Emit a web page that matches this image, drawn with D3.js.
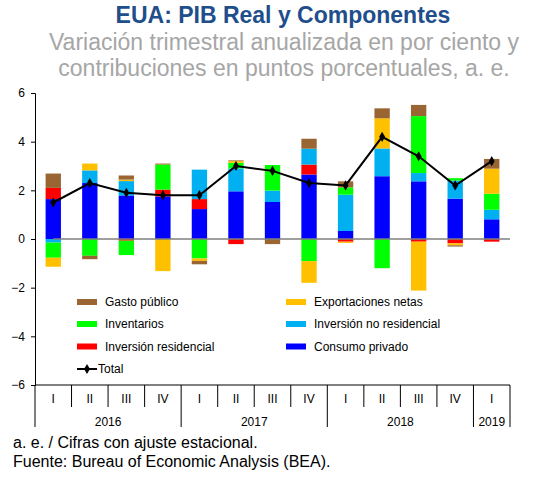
<!DOCTYPE html>
<html lang="es">
<head>
<meta charset="UTF-8">
<title>EUA: PIB Real y Componentes</title>
<style>
body{margin:0;background:#fff;}
svg text{font-family:"Liberation Sans",Arial,sans-serif;}
</style>
</head>
<body>
<script src="https://cdn.jsdelivr.net/npm/d3@7"></script>
<script>
// categorias
var quarters = ['I','II','III','IV','I','II','III','IV','I','II','III','IV','I']
var years    = ['2016','2016','2016','2016','2017','2017','2017','2017','2018','2018','2018','2018','2019']

// contribuciones en puntos porcentuales
var consumo     = [1.64, 2.30, 1.79, 1.75, 1.23, 1.96, 1.52, 2.65, 0.33, 2.58, 2.37, 1.66, 0.81]
var residencial = [0.46, 0, -0.07, 0.28, 0.41, -0.21, 0, 0.41, -0.11, 0, -0.11, -0.18, -0.11]
var noResid     = [-0.15, 0.52, 0.59, 0, 1.21, 0.94, 0.47, 0.65, 1.49, 1.14, 0.34, 0.74, 0.39]
var inventarios = [-0.62, -0.69, -0.59, 1.03, -0.80, 0.23, 1.05, -0.91, 0.30, -1.20, 2.34, 0.10, 0.66]
var exportNetas = [-0.37, 0.28, 0.06, -1.32, -0.10, 0.07, 0, -0.89, -0.05, 1.24, -2.01, -0.08, 1.03]
var gasto       = [0.59, -0.14, 0.17, 0.04, -0.14, 0.03, -0.21, 0.41, 0.25, 0.41, 0.46, -0.05, 0.40]
var total       = [1.5, 2.3, 1.9, 1.8, 1.8, 3.0, 2.8, 2.3, 2.2, 4.2, 3.4, 2.2, 3.2]

var yTicks = [-6,-4,-2,0,2,4,6]

var keys   = ['consumo','residencial','noResid','inventarios','exportNetas','gasto']
var names  = ['Consumo privado','Inversión residencial','Inversión no residencial','Inventarios','Exportaciones netas','Gasto público']
var colors = ['#0000ff','#ff0000','#00b0f0','#00ff00','#ffc000','#996633']
var series = [consumo, residencial, noResid, inventarios, exportNetas, gasto]

var width = 534, height = 482
var plotLeft = 35, plotRight = 510, plotTop = 93, plotBottom = 385

var table = quarters.map(function(q, i){
    var row = {i: i}
    keys.forEach(function(k, j){ row[k] = series[j][i] })
    return row
})

var x = d3.scaleBand().domain(d3.range(quarters.length)).range([plotLeft, plotRight])
var y = d3.scaleLinear().domain([-6, 6]).range([plotBottom, plotTop])
var color = d3.scaleOrdinal().domain(keys).range(colors)
var barW = x.bandwidth() * 0.42

var stacked = d3.stack().keys(keys).offset(d3.stackOffsetDiverging)(table)

var svg = d3.select('body').append('svg')
    .attr('width', width).attr('height', height)

// titulos
svg.append('text').attr('x', 283).attr('y', 23).attr('text-anchor', 'middle')
    .attr('font-size', 23).attr('font-weight', 'bold').attr('fill', '#1f4e8c')
    .text('EUA: PIB Real y Componentes')
svg.append('text').attr('x', 284).attr('y', 50).attr('text-anchor', 'middle')
    .attr('font-size', 23).attr('fill', '#a6a6a6')
    .text('Variación trimestral anualizada en por ciento y')
svg.append('text').attr('x', 284).attr('y', 76).attr('text-anchor', 'middle')
    .attr('font-size', 23).attr('fill', '#a6a6a6')
    .text('contribuciones en puntos porcentuales, a. e.')

// barras
svg.append('g').selectAll('g').data(stacked).enter().append('g')
    .attr('fill', function(d){ return color(d.key) })
    .selectAll('rect').data(function(d){ return d }).enter().append('rect')
    .attr('x', function(d){ return x(d.data.i) + (x.bandwidth() - barW) / 2 })
    .attr('width', barW)
    .attr('y', function(d){ return y(d[1]) })
    .attr('height', function(d){ return Math.max(0, y(d[0]) - y(d[1])) })

// linea de cero
svg.append('line')
    .attr('x1', x(0) + x.bandwidth() / 2).attr('x2', plotRight)
    .attr('y1', y(0)).attr('y2', y(0))
    .attr('stroke', '#7f7f7f').attr('stroke-width', 1.5)

// eje y
var yAxis = svg.append('g').attr('transform', 'translate(' + plotLeft + ',0)')
    .call(d3.axisLeft(y).tickValues(yTicks).tickSize(4).tickPadding(6).tickFormat(d3.format('d')))
yAxis.select('.domain').attr('stroke', '#000')
yAxis.selectAll('text').attr('font-size', 12).attr('fill', '#000')
    .style('font-family', '"Liberation Sans",Arial,sans-serif')

// eje de categorias
svg.append('line').attr('x1', plotLeft).attr('x2', plotRight).attr('y1', plotBottom).attr('y2', plotBottom)
    .attr('stroke', '#000')
var bounds = d3.range(quarters.length + 1)
svg.append('g').selectAll('line').data(bounds).enter().append('line')
    .attr('x1', function(d){ return d < quarters.length ? x(d) : plotRight })
    .attr('x2', function(d){ return d < quarters.length ? x(d) : plotRight })
    .attr('y1', plotBottom)
    .attr('y2', function(d){
        var yearEdge = d === 0 || d === quarters.length || years[d] !== years[d - 1]
        return yearEdge ? 427 : 407
    })
    .attr('stroke', '#000')
svg.append('g').selectAll('text').data(quarters).enter().append('text')
    .attr('x', function(d, i){ return x(i) + x.bandwidth() / 2 })
    .attr('y', 402.5).attr('text-anchor', 'middle').attr('font-size', 12)
    .text(function(d){ return d })
var yearGroups = d3.groups(d3.range(quarters.length), function(i){ return years[i] })
svg.append('g').selectAll('text').data(yearGroups).enter().append('text')
    .attr('x', function(d){
        var a = x(d[1][0]), b = x(d[1][d[1].length - 1]) + x.bandwidth()
        return (a + b) / 2
    })
    .attr('y', 425.5).attr('text-anchor', 'middle').attr('font-size', 12)
    .text(function(d){ return d[0] })

// total
var line = d3.line()
    .x(function(d, i){ return x(i) + x.bandwidth() / 2 })
    .y(function(d){ return y(d) })
svg.append('path').datum(total).attr('d', line)
    .attr('fill', 'none').attr('stroke', '#000').attr('stroke-width', 2)
var diamond = d3.symbol().type(d3.symbolDiamond).size(30)
svg.append('g').selectAll('path').data(total).enter().append('path')
    .attr('d', diamond)
    .attr('transform', function(d, i){ return 'translate(' + (x(i) + x.bandwidth() / 2) + ',' + y(d) + ')' })
    .attr('fill', '#000')

// leyenda
var legendItems = [
    {key: 'gasto', col: 0, row: 0},
    {key: 'inventarios', col: 0, row: 1},
    {key: 'residencial', col: 0, row: 2},
    {key: 'exportNetas', col: 1, row: 0},
    {key: 'noResid', col: 1, row: 1},
    {key: 'consumo', col: 1, row: 2}
]
var colX = [77, 286], rowY = [302, 324, 346.5]
var lg = svg.append('g').selectAll('g').data(legendItems).enter().append('g')
    .attr('transform', function(d){ return 'translate(' + colX[d.col] + ',' + rowY[d.row] + ')' })
lg.append('rect').attr('x', 0).attr('y', -3).attr('width', 20).attr('height', 6)
    .attr('fill', function(d){ return color(d.key) })
lg.append('text').attr('x', 28).attr('y', 4.3).attr('font-size', 12)
    .text(function(d){ return names[keys.indexOf(d.key)] })

var lt = svg.append('g').attr('transform', 'translate(77,369)')
lt.append('line').attr('x1', 0).attr('x2', 20).attr('stroke', '#000').attr('stroke-width', 2)
lt.append('path').attr('d', diamond).attr('transform', 'translate(10,0)').attr('fill', '#000')
lt.append('text').attr('x', 21).attr('y', 4.3).attr('font-size', 12).text('Total')

// notas
svg.append('text').attr('x', 13).attr('y', 448).attr('font-size', 16)
    .text('a. e. / Cifras con ajuste estacional.')
svg.append('text').attr('x', 13).attr('y', 466.5).attr('font-size', 16)
    .text('Fuente: Bureau of Economic Analysis (BEA).')
</script>
</body>
</html>
